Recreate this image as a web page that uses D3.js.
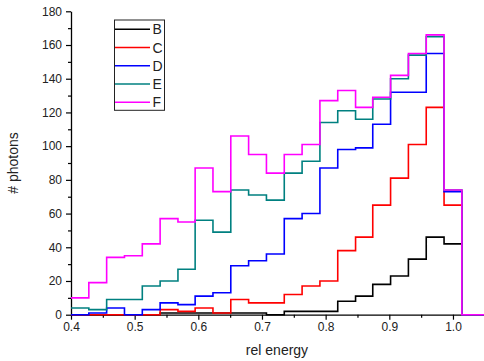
<!DOCTYPE html>
<html>
<head>
<meta charset="utf-8">
<script src="https://cdn.jsdelivr.net/npm/d3@7"></script>
<style>
html,body{margin:0;padding:0;background:#fff;}
svg{display:block;font-family:"Liberation Sans",Arial,sans-serif;}
</style>
</head>
<body>
<svg id="chart" width="484" height="361"></svg>
<script>
// ---- data ----
const binEdges = [0.400,0.428,0.456,0.484,0.512,0.540,0.568,0.595,0.623,0.651,0.679,0.707,0.735,0.763,0.791,0.819,0.847,0.874,0.902,0.930,0.958,0.986,1.014];
const seriesNames = ["B","C","D","E","F"];
const seriesColors = ["#000000","#ff0000","#0000ff","#008080","#ff00ff"];
const valuesB = [0,0,0,0,0,1,1,1,1,1,1,0,2,2,2,8,11,18,23,33,46,42];
const valuesC = [0,0,0,0,0,3,2,4,1,9,7,7,12,17,20,38,46,65,81,101,123,65];
const valuesD = [0,1,4,0,3,7,6,11,13,29,32,36,57,60,87,98,99,113,132,132,155,73];
const valuesE = [4,3,9,9,17,20,27,56,49,74,71,68,84,91,114,121,116,128,140,154,165,74];
const valuesF = [10,19,34,35,42,57,55,87,73,106,95,84,95,101,127,133,123,129,142,155,166,74];
const xMajorTicks = [0.4,0.5,0.6,0.7,0.8,0.9,1.0];
const xMinorTicks = [0.45,0.55,0.65,0.75,0.85,0.95];
const yMajorTicks = [0,20,40,60,80,100,120,140,160,180];
const yMinorTicks = [10,30,50,70,90,110,130,150,170];
const xDomain = [0.4,1.05];
const yDomain = [0,180];
const xTitle = "rel energy";
const yTitle = "# photons";

const allValues = [valuesB,valuesC,valuesD,valuesE,valuesF];

// ---- layout ----
const svg = d3.select("#chart");
const mLeft = 71, mRight = 484.8, mTop = 11.3, mBottom = 314.7;
const x = d3.scaleLinear().domain(xDomain).range([mLeft,mRight]);
const y = d3.scaleLinear().domain(yDomain).range([mBottom,mTop]);

// axes
svg.append("g").attr("transform",`translate(0,${mBottom})`)
  .call(d3.axisBottom(x).tickValues(xMajorTicks).tickFormat(d3.format(".1f")).tickSize(5).tickSizeOuter(0).tickPadding(3));
svg.append("g").attr("transform",`translate(0,${mBottom})`)
  .call(d3.axisBottom(x).tickValues(xMinorTicks).tickFormat("").tickSize(3).tickSizeOuter(0))
  .select(".domain").remove();
svg.append("g").attr("transform",`translate(${mLeft},0)`)
  .call(d3.axisLeft(y).tickValues(yMajorTicks).tickSize(5).tickSizeOuter(0).tickPadding(4));
svg.append("g").attr("transform",`translate(${mLeft},0)`)
  .call(d3.axisLeft(y).tickValues(yMinorTicks).tickFormat("").tickSize(3).tickSizeOuter(0))
  .select(".domain").remove();

svg.selectAll(".domain").attr("stroke","#000").attr("stroke-width",1.3);
svg.selectAll(".tick line").attr("stroke","#000").attr("stroke-width",1.2);
svg.selectAll(".tick text").attr("fill","#222").style("font-size","12px")
  .style("font-family","'Liberation Sans',Arial,sans-serif");

// titles
svg.append("text").attr("x",277).attr("y",355).attr("text-anchor","middle")
  .style("font-size","14px").attr("fill","#222").text(xTitle);
svg.append("text").attr("transform",`translate(18,${(mTop+mBottom)/2}) rotate(-90)`)
  .attr("text-anchor","middle").style("font-size","14px").attr("fill","#222").text(yTitle);

// step lines
const line = d3.line().x(d=>x(d[0])).y(d=>y(d[1])).curve(d3.curveStepAfter);
allValues.forEach((vals,si)=>{
  const pts = vals.map((v,i)=>[binEdges[i],v]);
  pts.push([binEdges[binEdges.length-1],0]);
  pts.push([xDomain[1],0]);
  svg.append("path").datum(pts).attr("d",line)
    .attr("fill","none").attr("stroke",seriesColors[si]).attr("stroke-width",1.6)
    .attr("stroke-linejoin","miter");
});

// legend
const lg = svg.append("g");
lg.append("rect").attr("x",114.5).attr("y",20).attr("width",50).attr("height",90.3)
  .attr("fill","#fff").attr("stroke","#222").attr("stroke-width",1);
seriesNames.forEach((n,i)=>{
  const yy = 29.3 + i*18.25;
  lg.append("line").attr("x1",115).attr("x2",150).attr("y1",yy).attr("y2",yy)
    .attr("stroke",seriesColors[i]).attr("stroke-width",1.6);
  lg.append("text").attr("x",152.5).attr("y",yy+5).style("font-size","14px")
    .attr("fill","#222").text(n);
});
</script>
</body>
</html>
